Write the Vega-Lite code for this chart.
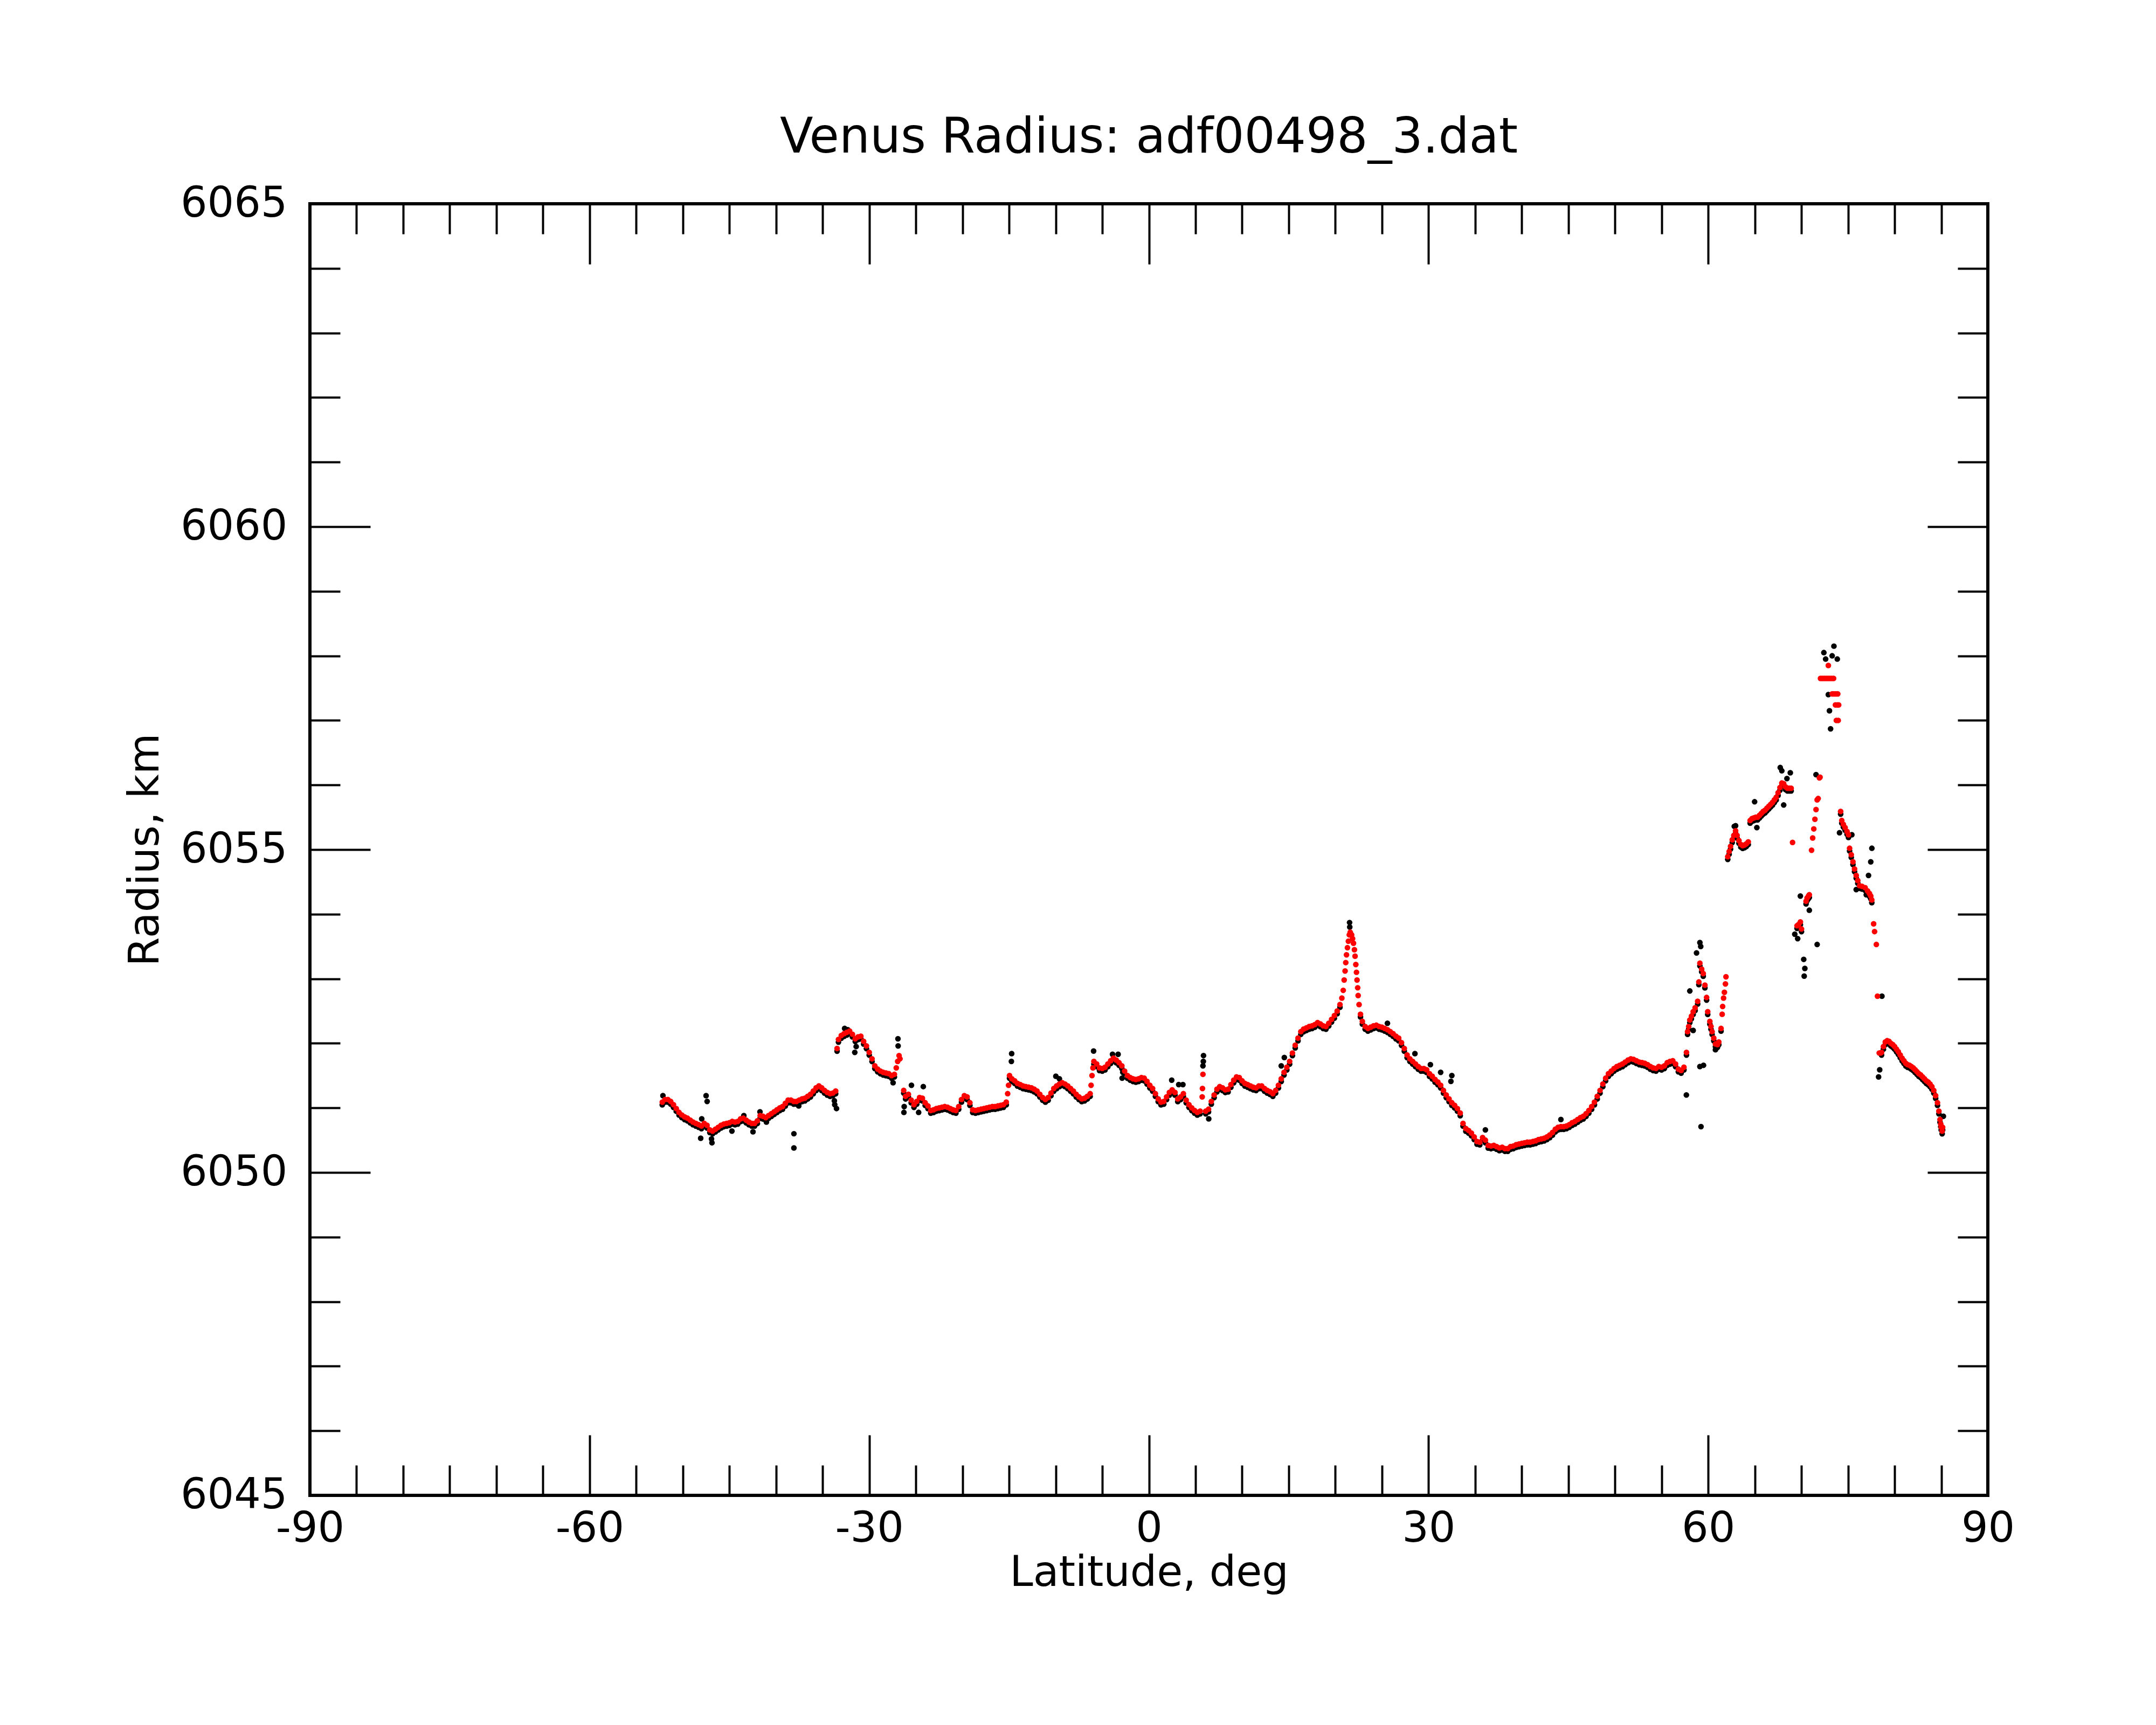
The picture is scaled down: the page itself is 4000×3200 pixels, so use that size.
{
  "$schema": "https://vega.github.io/schema/vega-lite/v6.json",
  "autosize": {"type": "none"},
  "padding": {"left": 575, "top": 378, "right": 312, "bottom": 426},
  "width": 3113,
  "height": 2396,
  "title": {
    "text": "Venus Radius: adf00498_3.dat",
    "font": "DejaVu Sans",
    "fontSize": 90,
    "fontWeight": "normal",
    "color": "black",
    "anchor": "middle",
    "frame": "group",
    "baseline": "alphabetic",
    "offset": -34
  },
  "config": {
    "view": {"stroke": "black", "strokeWidth": 6},
    "axis": {
      "grid": false,
      "domain": false,
      "labelFont": "DejaVu Sans",
      "labelFontSize": 78,
      "labelColor": "black",
      "labelFlush": false,
      "labelOverlap": false,
      "labelLimit": 0,
      "labelAngle": 0,
      "titleFont": "DejaVu Sans",
      "titleFontSize": 78,
      "titleFontWeight": "normal",
      "titleColor": "black",
      "tickColor": "black",
      "tickWidth": 4,
      "tickCap": "butt"
    }
  },
  "datasets": {
    "both": [
      {"lat": -52.2, "r": 6051.09}, {"lat": -51.9, "r": 6051.13}, {"lat": -51.6, "r": 6051.13}, {"lat": -51.3, "r": 6051.10},
      {"lat": -51.0, "r": 6051.05}, {"lat": -50.7, "r": 6050.99}, {"lat": -50.4, "r": 6050.93}, {"lat": -50.1, "r": 6050.89},
      {"lat": -49.8, "r": 6050.86}, {"lat": -49.5, "r": 6050.84}, {"lat": -49.2, "r": 6050.81}, {"lat": -48.9, "r": 6050.78},
      {"lat": -48.6, "r": 6050.76}, {"lat": -48.3, "r": 6050.74}, {"lat": -48.0, "r": 6050.72}, {"lat": -47.7, "r": 6050.76},
      {"lat": -47.4, "r": 6050.73}, {"lat": -47.1, "r": 6050.66}, {"lat": -46.8, "r": 6050.64}, {"lat": -46.5, "r": 6050.67},
      {"lat": -46.2, "r": 6050.70}, {"lat": -45.9, "r": 6050.73}, {"lat": -45.6, "r": 6050.75}, {"lat": -45.3, "r": 6050.76},
      {"lat": -45.0, "r": 6050.77}, {"lat": -44.7, "r": 6050.79}, {"lat": -44.4, "r": 6050.78}, {"lat": -44.1, "r": 6050.79},
      {"lat": -43.8, "r": 6050.83}, {"lat": -43.5, "r": 6050.84}, {"lat": -43.2, "r": 6050.81}, {"lat": -42.9, "r": 6050.78},
      {"lat": -42.6, "r": 6050.76}, {"lat": -42.3, "r": 6050.76}, {"lat": -42.0, "r": 6050.80}, {"lat": -41.7, "r": 6050.88},
      {"lat": -41.4, "r": 6050.87}, {"lat": -41.1, "r": 6050.85}, {"lat": -40.8, "r": 6050.88}, {"lat": -40.5, "r": 6050.91},
      {"lat": -40.2, "r": 6050.94}, {"lat": -39.9, "r": 6050.97}, {"lat": -39.6, "r": 6051.00}, {"lat": -39.3, "r": 6051.02},
      {"lat": -39.0, "r": 6051.07}, {"lat": -38.7, "r": 6051.12}, {"lat": -38.4, "r": 6051.12}, {"lat": -38.1, "r": 6051.10},
      {"lat": -37.8, "r": 6051.10}, {"lat": -37.5, "r": 6051.12}, {"lat": -37.2, "r": 6051.14}, {"lat": -36.9, "r": 6051.15},
      {"lat": -36.6, "r": 6051.18}, {"lat": -36.3, "r": 6051.21}, {"lat": -36.0, "r": 6051.26}, {"lat": -35.7, "r": 6051.31},
      {"lat": -35.4, "r": 6051.34}, {"lat": -35.1, "r": 6051.31}, {"lat": -34.8, "r": 6051.27}, {"lat": -34.5, "r": 6051.24},
      {"lat": -34.2, "r": 6051.22}, {"lat": -33.9, "r": 6051.23}, {"lat": -33.6, "r": 6051.26},
      {"lat": -33.45, "r": 6051.92}, {"lat": -33.3, "r": 6052.06}, {"lat": -33.0, "r": 6052.12}, {"lat": -32.7, "r": 6052.15},
      {"lat": -32.4, "r": 6052.17}, {"lat": -32.1, "r": 6052.19}, {"lat": -31.8, "r": 6052.14}, {"lat": -31.5, "r": 6052.07},
      {"lat": -31.2, "r": 6052.10}, {"lat": -30.9, "r": 6052.11}, {"lat": -30.6, "r": 6052.03}, {"lat": -30.3, "r": 6051.96},
      {"lat": -30.0, "r": 6051.86}, {"lat": -29.7, "r": 6051.76}, {"lat": -29.4, "r": 6051.65}, {"lat": -29.1, "r": 6051.60},
      {"lat": -28.8, "r": 6051.57}, {"lat": -28.5, "r": 6051.55}, {"lat": -28.2, "r": 6051.54}, {"lat": -27.9, "r": 6051.53},
      {"lat": -27.6, "r": 6051.50}, {"lat": -27.3, "r": 6051.52},
      {"lat": -26.3, "r": 6051.27}, {"lat": -26.1, "r": 6051.18}, {"lat": -25.8, "r": 6051.21}, {"lat": -25.5, "r": 6051.12},
      {"lat": -25.2, "r": 6051.05}, {"lat": -24.9, "r": 6051.10}, {"lat": -24.6, "r": 6051.16}, {"lat": -24.3, "r": 6051.15},
      {"lat": -24.0, "r": 6051.08}, {"lat": -23.7, "r": 6051.03}, {"lat": -23.4, "r": 6050.96}, {"lat": -23.1, "r": 6050.97},
      {"lat": -22.8, "r": 6050.99}, {"lat": -22.5, "r": 6051.00}, {"lat": -22.2, "r": 6051.01}, {"lat": -21.9, "r": 6051.02},
      {"lat": -21.6, "r": 6051.01}, {"lat": -21.3, "r": 6050.99}, {"lat": -21.0, "r": 6050.97}, {"lat": -20.7, "r": 6050.96},
      {"lat": -20.4, "r": 6051.02}, {"lat": -20.1, "r": 6051.13}, {"lat": -19.8, "r": 6051.19}, {"lat": -19.5, "r": 6051.17},
      {"lat": -19.2, "r": 6051.08}, {"lat": -18.9, "r": 6050.97}, {"lat": -18.6, "r": 6050.96}, {"lat": -18.3, "r": 6050.97},
      {"lat": -18.0, "r": 6050.98}, {"lat": -17.7, "r": 6050.99}, {"lat": -17.4, "r": 6051.00}, {"lat": -17.1, "r": 6051.01},
      {"lat": -16.8, "r": 6051.02}, {"lat": -16.5, "r": 6051.02}, {"lat": -16.2, "r": 6051.03}, {"lat": -15.9, "r": 6051.04},
      {"lat": -15.6, "r": 6051.05}, {"lat": -15.3, "r": 6051.09},
      {"lat": -14.95, "r": 6051.50}, {"lat": -14.7, "r": 6051.45}, {"lat": -14.4, "r": 6051.42}, {"lat": -14.1, "r": 6051.38},
      {"lat": -13.8, "r": 6051.36}, {"lat": -13.5, "r": 6051.34}, {"lat": -13.2, "r": 6051.33}, {"lat": -12.9, "r": 6051.32},
      {"lat": -12.6, "r": 6051.31}, {"lat": -12.3, "r": 6051.29}, {"lat": -12.0, "r": 6051.26}, {"lat": -11.7, "r": 6051.21},
      {"lat": -11.4, "r": 6051.16}, {"lat": -11.1, "r": 6051.13}, {"lat": -10.8, "r": 6051.16}, {"lat": -10.5, "r": 6051.23},
      {"lat": -10.2, "r": 6051.30}, {"lat": -9.9, "r": 6051.34}, {"lat": -9.6, "r": 6051.37}, {"lat": -9.3, "r": 6051.39},
      {"lat": -9.0, "r": 6051.37}, {"lat": -8.7, "r": 6051.34}, {"lat": -8.4, "r": 6051.30}, {"lat": -8.1, "r": 6051.26},
      {"lat": -7.8, "r": 6051.21}, {"lat": -7.5, "r": 6051.17}, {"lat": -7.2, "r": 6051.14}, {"lat": -6.9, "r": 6051.15},
      {"lat": -6.6, "r": 6051.18}, {"lat": -6.3, "r": 6051.22},
      {"lat": -5.9, "r": 6051.72}, {"lat": -5.6, "r": 6051.68}, {"lat": -5.3, "r": 6051.62}, {"lat": -5.0, "r": 6051.61},
      {"lat": -4.7, "r": 6051.63}, {"lat": -4.4, "r": 6051.68}, {"lat": -4.1, "r": 6051.73}, {"lat": -3.8, "r": 6051.77},
      {"lat": -3.5, "r": 6051.74}, {"lat": -3.2, "r": 6051.70}, {"lat": -2.9, "r": 6051.65}, {"lat": -2.6, "r": 6051.57},
      {"lat": -2.3, "r": 6051.50}, {"lat": -2.0, "r": 6051.47}, {"lat": -1.7, "r": 6051.45}, {"lat": -1.4, "r": 6051.44},
      {"lat": -1.1, "r": 6051.45}, {"lat": -0.8, "r": 6051.47}, {"lat": -0.5, "r": 6051.46}, {"lat": -0.2, "r": 6051.41},
      {"lat": 0.1, "r": 6051.35}, {"lat": 0.4, "r": 6051.30}, {"lat": 0.7, "r": 6051.22}, {"lat": 1.0, "r": 6051.14},
      {"lat": 1.3, "r": 6051.09}, {"lat": 1.6, "r": 6051.10}, {"lat": 1.9, "r": 6051.17}, {"lat": 2.2, "r": 6051.24},
      {"lat": 2.5, "r": 6051.28}, {"lat": 2.8, "r": 6051.24}, {"lat": 3.1, "r": 6051.14}, {"lat": 3.4, "r": 6051.17},
      {"lat": 3.7, "r": 6051.22}, {"lat": 4.0, "r": 6051.12}, {"lat": 4.3, "r": 6051.05}, {"lat": 4.6, "r": 6051.00},
      {"lat": 4.9, "r": 6050.96}, {"lat": 5.2, "r": 6050.93}, {"lat": 5.5, "r": 6050.95},
      {"lat": 6.1, "r": 6050.95}, {"lat": 6.4, "r": 6050.98}, {"lat": 6.7, "r": 6051.10}, {"lat": 7.0, "r": 6051.20},
      {"lat": 7.3, "r": 6051.29}, {"lat": 7.6, "r": 6051.33}, {"lat": 7.9, "r": 6051.31}, {"lat": 8.2, "r": 6051.28},
      {"lat": 8.5, "r": 6051.29}, {"lat": 8.8, "r": 6051.36}, {"lat": 9.1, "r": 6051.43}, {"lat": 9.4, "r": 6051.48},
      {"lat": 9.7, "r": 6051.47}, {"lat": 10.0, "r": 6051.42}, {"lat": 10.3, "r": 6051.38}, {"lat": 10.6, "r": 6051.36},
      {"lat": 10.9, "r": 6051.34}, {"lat": 11.2, "r": 6051.32}, {"lat": 11.5, "r": 6051.31}, {"lat": 11.8, "r": 6051.34},
      {"lat": 12.1, "r": 6051.34}, {"lat": 12.4, "r": 6051.30}, {"lat": 12.7, "r": 6051.27}, {"lat": 13.0, "r": 6051.25},
      {"lat": 13.3, "r": 6051.22}, {"lat": 13.6, "r": 6051.27}, {"lat": 13.9, "r": 6051.35}, {"lat": 14.2, "r": 6051.45},
      {"lat": 14.5, "r": 6051.55}, {"lat": 14.8, "r": 6051.63}, {"lat": 15.1, "r": 6051.72}, {"lat": 15.4, "r": 6051.85},
      {"lat": 15.7, "r": 6051.97}, {"lat": 16.0, "r": 6052.08}, {"lat": 16.3, "r": 6052.18}, {"lat": 16.6, "r": 6052.22},
      {"lat": 16.9, "r": 6052.24}, {"lat": 17.2, "r": 6052.26}, {"lat": 17.5, "r": 6052.27}, {"lat": 17.8, "r": 6052.29},
      {"lat": 18.1, "r": 6052.32}, {"lat": 18.4, "r": 6052.30}, {"lat": 18.7, "r": 6052.27}, {"lat": 19.0, "r": 6052.26},
      {"lat": 19.3, "r": 6052.31}, {"lat": 19.6, "r": 6052.37}, {"lat": 19.9, "r": 6052.43}, {"lat": 20.2, "r": 6052.50},
      {"lat": 20.5, "r": 6052.60},
      {"lat": 22.7, "r": 6052.45}, {"lat": 22.9, "r": 6052.34}, {"lat": 23.2, "r": 6052.26}, {"lat": 23.5, "r": 6052.23},
      {"lat": 23.8, "r": 6052.25}, {"lat": 24.1, "r": 6052.27}, {"lat": 24.4, "r": 6052.28}, {"lat": 24.7, "r": 6052.26},
      {"lat": 25.0, "r": 6052.25}, {"lat": 25.3, "r": 6052.23}, {"lat": 25.6, "r": 6052.21}, {"lat": 25.9, "r": 6052.18},
      {"lat": 26.2, "r": 6052.15}, {"lat": 26.5, "r": 6052.11}, {"lat": 26.8, "r": 6052.08}, {"lat": 27.1, "r": 6052.01},
      {"lat": 27.4, "r": 6051.92}, {"lat": 27.7, "r": 6051.82}, {"lat": 28.0, "r": 6051.76}, {"lat": 28.3, "r": 6051.72},
      {"lat": 28.6, "r": 6051.68}, {"lat": 28.9, "r": 6051.64}, {"lat": 29.2, "r": 6051.61}, {"lat": 29.5, "r": 6051.61},
      {"lat": 29.8, "r": 6051.59}, {"lat": 30.1, "r": 6051.53}, {"lat": 30.4, "r": 6051.49}, {"lat": 30.7, "r": 6051.44},
      {"lat": 31.0, "r": 6051.40}, {"lat": 31.3, "r": 6051.35}, {"lat": 31.6, "r": 6051.27}, {"lat": 31.9, "r": 6051.20},
      {"lat": 32.2, "r": 6051.14}, {"lat": 32.5, "r": 6051.08}, {"lat": 32.8, "r": 6051.04}, {"lat": 33.1, "r": 6050.99},
      {"lat": 33.4, "r": 6050.92}, {"lat": 33.7, "r": 6050.76}, {"lat": 34.0, "r": 6050.68}, {"lat": 34.3, "r": 6050.65},
      {"lat": 34.6, "r": 6050.61}, {"lat": 34.9, "r": 6050.55}, {"lat": 35.2, "r": 6050.48}, {"lat": 35.5, "r": 6050.47},
      {"lat": 35.8, "r": 6050.54}, {"lat": 36.1, "r": 6050.50}, {"lat": 36.4, "r": 6050.42}, {"lat": 36.7, "r": 6050.41},
      {"lat": 37.0, "r": 6050.42}, {"lat": 37.3, "r": 6050.40}, {"lat": 37.6, "r": 6050.38}, {"lat": 37.9, "r": 6050.39},
      {"lat": 38.2, "r": 6050.37}, {"lat": 38.5, "r": 6050.37}, {"lat": 38.8, "r": 6050.40}, {"lat": 39.1, "r": 6050.41},
      {"lat": 39.4, "r": 6050.43}, {"lat": 39.7, "r": 6050.44}, {"lat": 40.0, "r": 6050.45}, {"lat": 40.3, "r": 6050.46},
      {"lat": 40.6, "r": 6050.47}, {"lat": 40.9, "r": 6050.47}, {"lat": 41.2, "r": 6050.48}, {"lat": 41.5, "r": 6050.49},
      {"lat": 41.8, "r": 6050.51}, {"lat": 42.1, "r": 6050.52}, {"lat": 42.4, "r": 6050.53}, {"lat": 42.7, "r": 6050.55},
      {"lat": 43.0, "r": 6050.58}, {"lat": 43.3, "r": 6050.62}, {"lat": 43.6, "r": 6050.67}, {"lat": 43.9, "r": 6050.70},
      {"lat": 44.2, "r": 6050.71}, {"lat": 44.5, "r": 6050.71}, {"lat": 44.8, "r": 6050.72}, {"lat": 45.1, "r": 6050.74},
      {"lat": 45.4, "r": 6050.77}, {"lat": 45.7, "r": 6050.79}, {"lat": 46.0, "r": 6050.82}, {"lat": 46.3, "r": 6050.85},
      {"lat": 46.6, "r": 6050.87}, {"lat": 46.9, "r": 6050.91}, {"lat": 47.2, "r": 6050.96}, {"lat": 47.5, "r": 6051.02},
      {"lat": 47.8, "r": 6051.09}, {"lat": 48.1, "r": 6051.18}, {"lat": 48.4, "r": 6051.27}, {"lat": 48.7, "r": 6051.37},
      {"lat": 49.0, "r": 6051.46}, {"lat": 49.3, "r": 6051.53}, {"lat": 49.6, "r": 6051.57}, {"lat": 49.9, "r": 6051.61},
      {"lat": 50.2, "r": 6051.64}, {"lat": 50.5, "r": 6051.66}, {"lat": 50.8, "r": 6051.68}, {"lat": 51.1, "r": 6051.71},
      {"lat": 51.4, "r": 6051.74}, {"lat": 51.7, "r": 6051.76}, {"lat": 52.0, "r": 6051.75}, {"lat": 52.3, "r": 6051.73},
      {"lat": 52.6, "r": 6051.71}, {"lat": 52.9, "r": 6051.70}, {"lat": 53.2, "r": 6051.69}, {"lat": 53.5, "r": 6051.67},
      {"lat": 53.8, "r": 6051.64}, {"lat": 54.1, "r": 6051.62}, {"lat": 54.4, "r": 6051.61}, {"lat": 54.7, "r": 6051.64},
      {"lat": 55.0, "r": 6051.63}, {"lat": 55.3, "r": 6051.65}, {"lat": 55.6, "r": 6051.70}, {"lat": 55.9, "r": 6051.72},
      {"lat": 56.2, "r": 6051.73}, {"lat": 56.5, "r": 6051.68}, {"lat": 56.8, "r": 6051.60}, {"lat": 57.1, "r": 6051.58},
      {"lat": 57.4, "r": 6051.63}, {"lat": 57.67, "r": 6051.86}, {"lat": 57.79, "r": 6052.18}, {"lat": 57.91, "r": 6052.26},
      {"lat": 58.03, "r": 6052.36}, {"lat": 58.2, "r": 6052.42}, {"lat": 58.39, "r": 6052.49}, {"lat": 58.6, "r": 6052.55},
      {"lat": 58.87, "r": 6052.65}, {"lat": 59.0, "r": 6052.95}, {"lat": 59.11, "r": 6053.24}, {"lat": 59.3, "r": 6053.15},
      {"lat": 59.47, "r": 6053.08}, {"lat": 59.65, "r": 6052.90}, {"lat": 59.83, "r": 6052.71}, {"lat": 59.95, "r": 6052.49},
      {"lat": 60.18, "r": 6052.34}, {"lat": 60.3, "r": 6052.26}, {"lat": 60.42, "r": 6052.18}, {"lat": 60.6, "r": 6052.08},
      {"lat": 60.78, "r": 6051.99}, {"lat": 61.0, "r": 6051.98}, {"lat": 61.14, "r": 6052.02}, {"lat": 61.38, "r": 6052.23},
      {"lat": 62.1, "r": 6054.89}, {"lat": 62.25, "r": 6054.97}, {"lat": 62.4, "r": 6055.05}, {"lat": 62.58, "r": 6055.15},
      {"lat": 62.75, "r": 6055.22}, {"lat": 62.94, "r": 6055.29}, {"lat": 63.1, "r": 6055.22}, {"lat": 63.3, "r": 6055.14},
      {"lat": 63.5, "r": 6055.08}, {"lat": 63.7, "r": 6055.06}, {"lat": 63.9, "r": 6055.07}, {"lat": 64.1, "r": 6055.09},
      {"lat": 64.3, "r": 6055.12}, {"lat": 64.5, "r": 6055.45}, {"lat": 64.7, "r": 6055.48}, {"lat": 64.9, "r": 6055.49},
      {"lat": 65.1, "r": 6055.50}, {"lat": 65.3, "r": 6055.50}, {"lat": 65.5, "r": 6055.53}, {"lat": 65.7, "r": 6055.56},
      {"lat": 65.9, "r": 6055.59}, {"lat": 66.1, "r": 6055.61}, {"lat": 66.3, "r": 6055.64}, {"lat": 66.5, "r": 6055.67},
      {"lat": 66.7, "r": 6055.70}, {"lat": 66.9, "r": 6055.73}, {"lat": 67.1, "r": 6055.77}, {"lat": 67.3, "r": 6055.81},
      {"lat": 67.5, "r": 6055.88}, {"lat": 67.7, "r": 6055.96}, {"lat": 67.9, "r": 6056.03}, {"lat": 68.1, "r": 6056.02},
      {"lat": 68.3, "r": 6055.97}, {"lat": 68.5, "r": 6055.95}, {"lat": 68.7, "r": 6055.95}, {"lat": 68.9, "r": 6055.95},
      {"lat": 69.53, "r": 6053.82}, {"lat": 69.7, "r": 6053.84}, {"lat": 69.89, "r": 6053.88}, {"lat": 70.01, "r": 6053.77},
      {"lat": 70.5, "r": 6054.20}, {"lat": 70.61, "r": 6054.25}, {"lat": 70.75, "r": 6054.28}, {"lat": 70.85, "r": 6054.30},
      {"lat": 74.21, "r": 6055.59}, {"lat": 74.33, "r": 6055.45}, {"lat": 74.5, "r": 6055.39}, {"lat": 74.69, "r": 6055.34},
      {"lat": 74.9, "r": 6055.28}, {"lat": 75.05, "r": 6055.23}, {"lat": 75.17, "r": 6055.02}, {"lat": 75.35, "r": 6054.92},
      {"lat": 75.53, "r": 6054.81}, {"lat": 75.7, "r": 6054.70}, {"lat": 75.88, "r": 6054.60}, {"lat": 76.05, "r": 6054.52},
      {"lat": 76.24, "r": 6054.44}, {"lat": 76.5, "r": 6054.43}, {"lat": 76.84, "r": 6054.41}, {"lat": 77.1, "r": 6054.36},
      {"lat": 77.3, "r": 6054.32}, {"lat": 77.44, "r": 6054.28}, {"lat": 77.55, "r": 6054.22},
      {"lat": 78.6, "r": 6051.86}, {"lat": 78.8, "r": 6051.95}, {"lat": 79.0, "r": 6052.02}, {"lat": 79.2, "r": 6052.04},
      {"lat": 79.4, "r": 6052.03}, {"lat": 79.6, "r": 6052.00}, {"lat": 79.8, "r": 6051.98}, {"lat": 80.0, "r": 6051.95},
      {"lat": 80.2, "r": 6051.91}, {"lat": 80.4, "r": 6051.87}, {"lat": 80.6, "r": 6051.82}, {"lat": 80.8, "r": 6051.77},
      {"lat": 81.0, "r": 6051.73}, {"lat": 81.2, "r": 6051.69}, {"lat": 81.4, "r": 6051.67}, {"lat": 81.6, "r": 6051.66},
      {"lat": 81.8, "r": 6051.64}, {"lat": 82.0, "r": 6051.62}, {"lat": 82.2, "r": 6051.59}, {"lat": 82.4, "r": 6051.56},
      {"lat": 82.6, "r": 6051.53}, {"lat": 82.8, "r": 6051.51}, {"lat": 83.0, "r": 6051.48}, {"lat": 83.2, "r": 6051.45},
      {"lat": 83.4, "r": 6051.42}, {"lat": 83.6, "r": 6051.40}, {"lat": 83.8, "r": 6051.37}, {"lat": 84.0, "r": 6051.33},
      {"lat": 84.2, "r": 6051.27}, {"lat": 84.4, "r": 6051.19}, {"lat": 84.6, "r": 6051.08}, {"lat": 84.75, "r": 6050.95},
      {"lat": 84.87, "r": 6050.82}, {"lat": 84.95, "r": 6050.75}, {"lat": 85.0, "r": 6050.70}, {"lat": 85.1, "r": 6050.64},
      {"lat": 85.15, "r": 6050.70}
    ],
    "fit": [
      {"lat": -27.1, "r": 6051.62}, {"lat": -26.95, "r": 6051.72}, {"lat": -26.8, "r": 6051.81}, {"lat": -26.7, "r": 6051.76},
      {"lat": -15.15, "r": 6051.22}, {"lat": -15.05, "r": 6051.35},
      {"lat": -6.2, "r": 6051.35}, {"lat": -6.1, "r": 6051.50}, {"lat": -6.0, "r": 6051.62},
      {"lat": 5.72, "r": 6051.17}, {"lat": 5.75, "r": 6051.30}, {"lat": 5.8, "r": 6051.52},
      {"lat": 20.7, "r": 6052.70}, {"lat": 20.85, "r": 6052.82}, {"lat": 20.95, "r": 6052.98}, {"lat": 21.05, "r": 6053.12},
      {"lat": 21.12, "r": 6053.25}, {"lat": 21.2, "r": 6053.37}, {"lat": 21.3, "r": 6053.48}, {"lat": 21.4, "r": 6053.58},
      {"lat": 21.5, "r": 6053.68}, {"lat": 21.6, "r": 6053.72}, {"lat": 21.75, "r": 6053.68}, {"lat": 21.85, "r": 6053.62},
      {"lat": 21.95, "r": 6053.55}, {"lat": 22.05, "r": 6053.45}, {"lat": 22.12, "r": 6053.35}, {"lat": 22.2, "r": 6053.22},
      {"lat": 22.27, "r": 6053.10}, {"lat": 22.33, "r": 6052.98}, {"lat": 22.4, "r": 6052.86}, {"lat": 22.45, "r": 6052.74},
      {"lat": 22.55, "r": 6052.60},
      {"lat": 61.5, "r": 6052.45}, {"lat": 61.55, "r": 6052.57}, {"lat": 61.65, "r": 6052.70}, {"lat": 61.74, "r": 6052.79},
      {"lat": 61.85, "r": 6052.92}, {"lat": 61.91, "r": 6053.03},
      {"lat": 69.05, "r": 6055.11},
      {"lat": 71.09, "r": 6054.99}, {"lat": 71.21, "r": 6055.18}, {"lat": 71.33, "r": 6055.32}, {"lat": 71.45, "r": 6055.47},
      {"lat": 71.57, "r": 6055.62}, {"lat": 71.69, "r": 6055.77}, {"lat": 71.8, "r": 6055.79}, {"lat": 71.93, "r": 6056.11},
      {"lat": 72.0, "r": 6056.12},
      {"lat": 72.05, "r": 6057.65}, {"lat": 72.25, "r": 6057.65}, {"lat": 72.45, "r": 6057.65}, {"lat": 72.65, "r": 6057.65},
      {"lat": 72.85, "r": 6057.65}, {"lat": 73.05, "r": 6057.65}, {"lat": 73.25, "r": 6057.65}, {"lat": 73.45, "r": 6057.65},
      {"lat": 72.89, "r": 6057.85},
      {"lat": 73.3, "r": 6057.41}, {"lat": 73.5, "r": 6057.41}, {"lat": 73.7, "r": 6057.41}, {"lat": 73.9, "r": 6057.41},
      {"lat": 73.65, "r": 6057.24}, {"lat": 73.85, "r": 6057.24}, {"lat": 74.0, "r": 6057.24},
      {"lat": 73.75, "r": 6057.00}, {"lat": 73.95, "r": 6057.00},
      {"lat": 77.75, "r": 6053.85}, {"lat": 77.85, "r": 6053.73}, {"lat": 78.04, "r": 6053.53}, {"lat": 78.16, "r": 6052.73},
      {"lat": 78.35, "r": 6051.85}, {"lat": 78.5, "r": 6051.85}
    ],
    "raw": [
      {"lat": -52.13, "r": 6051.19}, {"lat": -47.97, "r": 6050.83}, {"lat": -47.5, "r": 6051.19}, {"lat": -47.39, "r": 6051.10},
      {"lat": -48.08, "r": 6050.53}, {"lat": -46.92, "r": 6050.52}, {"lat": -46.87, "r": 6050.46}, {"lat": -44.73, "r": 6050.64},
      {"lat": -43.45, "r": 6050.88}, {"lat": -42.47, "r": 6050.63}, {"lat": -41.72, "r": 6050.94}, {"lat": -41.03, "r": 6050.78},
      {"lat": -38.08, "r": 6050.60}, {"lat": -38.08, "r": 6050.38}, {"lat": -37.56, "r": 6051.03}, {"lat": -33.74, "r": 6051.11},
      {"lat": -33.7, "r": 6051.05}, {"lat": -33.51, "r": 6050.99}, {"lat": -32.64, "r": 6052.23}, {"lat": -32.3, "r": 6052.21},
      {"lat": -31.55, "r": 6051.86}, {"lat": -31.4, "r": 6051.95}, {"lat": -26.92, "r": 6052.07}, {"lat": -26.9, "r": 6051.96},
      {"lat": -27.44, "r": 6051.39}, {"lat": -26.28, "r": 6050.93}, {"lat": -26.25, "r": 6051.02}, {"lat": -25.47, "r": 6051.35},
      {"lat": -24.2, "r": 6051.33}, {"lat": -24.7, "r": 6050.93}, {"lat": -14.72, "r": 6051.84}, {"lat": -14.75, "r": 6051.72},
      {"lat": -9.98, "r": 6051.49}, {"lat": -9.6, "r": 6051.45}, {"lat": -5.93, "r": 6051.88}, {"lat": -3.9, "r": 6051.83},
      {"lat": -3.3, "r": 6051.83}, {"lat": -2.87, "r": 6051.46}, {"lat": -2.8, "r": 6051.55}, {"lat": 2.45, "r": 6051.43},
      {"lat": 3.2, "r": 6051.36}, {"lat": 3.65, "r": 6051.36}, {"lat": 5.86, "r": 6051.81}, {"lat": 5.84, "r": 6051.72},
      {"lat": 5.8, "r": 6051.65}, {"lat": 6.42, "r": 6050.83}, {"lat": 14.53, "r": 6051.78}, {"lat": 14.2, "r": 6051.65},
      {"lat": 21.53, "r": 6053.87}, {"lat": 21.55, "r": 6053.80}, {"lat": 25.59, "r": 6052.31}, {"lat": 28.54, "r": 6051.84},
      {"lat": 30.2, "r": 6051.67}, {"lat": 31.3, "r": 6051.55}, {"lat": 32.4, "r": 6051.41}, {"lat": 32.5, "r": 6051.50},
      {"lat": 36.1, "r": 6050.66}, {"lat": 44.2, "r": 6050.82}, {"lat": 57.66, "r": 6051.20}, {"lat": 58.03, "r": 6052.81},
      {"lat": 58.39, "r": 6052.20}, {"lat": 58.75, "r": 6053.40}, {"lat": 59.11, "r": 6053.56}, {"lat": 59.2, "r": 6053.50},
      {"lat": 59.23, "r": 6050.71}, {"lat": 59.11, "r": 6051.64}, {"lat": 59.5, "r": 6051.66}, {"lat": 60.78, "r": 6051.90},
      {"lat": 60.9, "r": 6051.93}, {"lat": 62.94, "r": 6055.37}, {"lat": 62.8, "r": 6055.36}, {"lat": 64.98, "r": 6055.74},
      {"lat": 65.22, "r": 6055.34}, {"lat": 67.73, "r": 6056.27}, {"lat": 67.9, "r": 6056.22}, {"lat": 68.81, "r": 6056.19},
      {"lat": 68.45, "r": 6056.10}, {"lat": 68.1, "r": 6055.69}, {"lat": 69.89, "r": 6054.28}, {"lat": 70.85, "r": 6054.06},
      {"lat": 71.69, "r": 6053.53}, {"lat": 70.25, "r": 6053.30}, {"lat": 70.37, "r": 6053.16}, {"lat": 70.3, "r": 6053.04},
      {"lat": 69.29, "r": 6053.69}, {"lat": 69.6, "r": 6053.62}, {"lat": 71.57, "r": 6056.16}, {"lat": 72.41, "r": 6058.05},
      {"lat": 72.6, "r": 6057.95}, {"lat": 73.49, "r": 6058.15}, {"lat": 73.3, "r": 6058.00}, {"lat": 73.85, "r": 6057.95},
      {"lat": 72.89, "r": 6057.40}, {"lat": 73.01, "r": 6057.15}, {"lat": 73.13, "r": 6056.87}, {"lat": 74.09, "r": 6055.26},
      {"lat": 75.41, "r": 6055.23}, {"lat": 77.56, "r": 6055.02}, {"lat": 77.44, "r": 6054.81}, {"lat": 77.2, "r": 6054.60},
      {"lat": 75.88, "r": 6054.38}, {"lat": 76.96, "r": 6054.30}, {"lat": 78.28, "r": 6051.48}, {"lat": 78.4, "r": 6051.59},
      {"lat": 78.64, "r": 6052.73}, {"lat": 85.23, "r": 6050.87}
    ]
  },
  "resolve": {"axis": {"x": "independent", "y": "independent"}},
  "layer": [
    {
      "data": {"name": "both"},
      "mark": {"type": "point", "shape": "circle", "filled": true, "size": 110, "color": "black", "opacity": 1, "yOffset": 5},
      "encoding": {
        "x": {"field": "lat", "type": "quantitative", "scale": {"domain": [-90, 90], "nice": false, "zero": false},
          "axis": {"orient": "bottom", "values": [-90, -60, -30, 0, 30, 60, 90], "labelExpr": "'' + datum.value", "ticks": false, "labelPadding": 23, "title": "Latitude, deg", "titlePadding": 4}},
        "y": {"field": "r", "type": "quantitative", "scale": {"domain": [6045, 6065], "nice": false, "zero": false},
          "axis": {"orient": "left", "values": [6045, 6050, 6055, 6060, 6065], "labelExpr": "'' + datum.value", "ticks": false, "labelPadding": 42, "title": "Radius, km", "titlePadding": 66}}
      }
    },
    {
      "data": {"name": "raw"},
      "mark": {"type": "point", "shape": "circle", "filled": true, "size": 110, "color": "black", "opacity": 1},
      "encoding": {
        "x": {"field": "lat", "type": "quantitative", "scale": {"domain": [-90, 90], "nice": false, "zero": false},
          "axis": {"orient": "bottom", "values": [-85, -80, -75, -70, -65, -55, -50, -45, -40, -35, -25, -20, -15, -10, -5, 5, 10, 15, 20, 25, 35, 40, 45, 50, 55, 65, 70, 75, 80, 85], "labels": false, "tickSize": -56, "title": null}},
        "y": {"field": "r", "type": "quantitative", "scale": {"domain": [6045, 6065], "nice": false, "zero": false},
          "axis": {"orient": "left", "values": [6046, 6047, 6048, 6049, 6051, 6052, 6053, 6054, 6056, 6057, 6058, 6059, 6061, 6062, 6063, 6064], "labels": false, "tickSize": -56, "title": null}}
      }
    },
    {
      "data": {"name": "both"},
      "mark": {"type": "point", "shape": "circle", "filled": true, "size": 110, "color": "#ff0000", "opacity": 1},
      "encoding": {
        "x": {"field": "lat", "type": "quantitative", "scale": {"domain": [-90, 90], "nice": false, "zero": false},
          "axis": {"orient": "bottom", "values": [-60, -30, 0, 30, 60], "labels": false, "tickSize": -112, "title": null}},
        "y": {"field": "r", "type": "quantitative", "scale": {"domain": [6045, 6065], "nice": false, "zero": false},
          "axis": {"orient": "left", "values": [6050, 6055, 6060], "labels": false, "tickSize": -112, "title": null}}
      }
    },
    {
      "data": {"name": "fit"},
      "mark": {"type": "point", "shape": "circle", "filled": true, "size": 110, "color": "#ff0000", "opacity": 1},
      "encoding": {
        "x": {"field": "lat", "type": "quantitative", "scale": {"domain": [-90, 90], "nice": false, "zero": false},
          "axis": {"orient": "top", "values": [-85, -80, -75, -70, -65, -55, -50, -45, -40, -35, -25, -20, -15, -10, -5, 5, 10, 15, 20, 25, 35, 40, 45, 50, 55, 65, 70, 75, 80, 85], "labels": false, "tickSize": -56, "title": null}},
        "y": {"field": "r", "type": "quantitative", "scale": {"domain": [6045, 6065], "nice": false, "zero": false},
          "axis": {"orient": "right", "values": [6046, 6047, 6048, 6049, 6051, 6052, 6053, 6054, 6056, 6057, 6058, 6059, 6061, 6062, 6063, 6064], "labels": false, "tickSize": -56, "title": null}}
      }
    },
    {
      "data": {"values": []},
      "mark": {"type": "point", "shape": "circle", "filled": true, "size": 110, "color": "#ff0000"},
      "encoding": {
        "x": {"field": "lat", "type": "quantitative", "scale": {"domain": [-90, 90], "nice": false, "zero": false},
          "axis": {"orient": "top", "values": [-60, -30, 0, 30, 60], "labels": false, "tickSize": -112, "title": null}},
        "y": {"field": "r", "type": "quantitative", "scale": {"domain": [6045, 6065], "nice": false, "zero": false},
          "axis": {"orient": "right", "values": [6050, 6055, 6060], "labels": false, "tickSize": -112, "title": null}}
      }
    }
  ]
}
